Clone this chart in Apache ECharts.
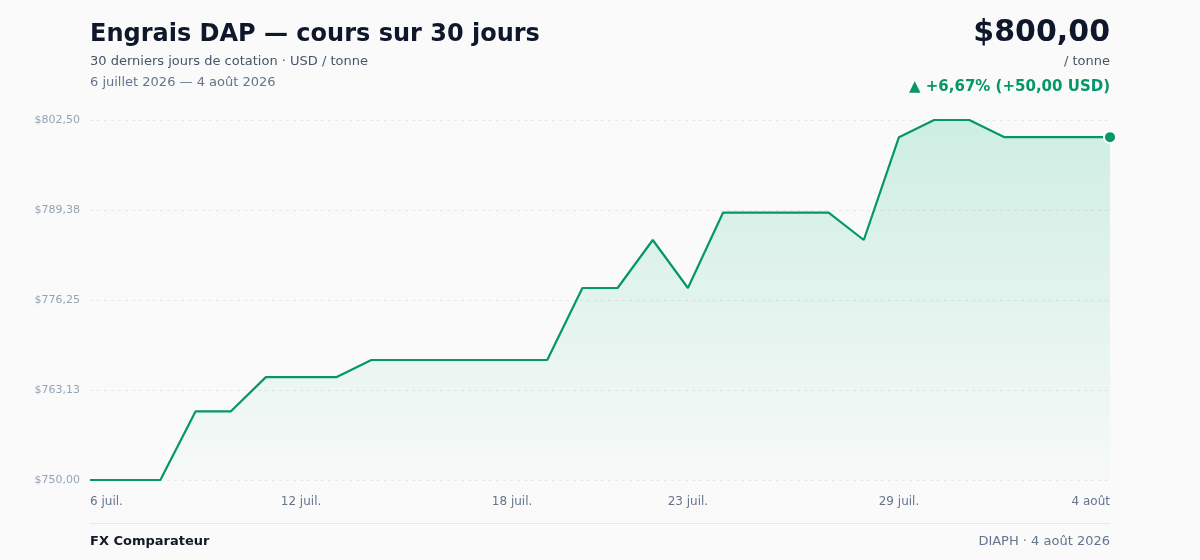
<!DOCTYPE html>
<html>
<head>
<meta charset="utf-8">
<script src="https://cdn.jsdelivr.net/npm/echarts@6/dist/echarts.min.js"></script>
<style>
  html, body { margin: 0; padding: 0; background: #fafafa; }
  #container { width: 1200px; height: 560px; }
</style>
</head>
<body>
<div id="container"></div>
<script>
const days = [
  "6 juil.", "7 juil.", "8 juil.", "9 juil.", "10 juil.", "11 juil.", "12 juil.",
  "13 juil.", "14 juil.", "15 juil.", "16 juil.", "17 juil.", "18 juil.", "19 juil.",
  "20 juil.", "21 juil.", "22 juil.", "23 juil.", "24 juil.", "25 juil.", "26 juil.",
  "27 juil.", "28 juil.", "29 juil.", "30 juil.", "31 juil.", "1 août", "2 août",
  "3 août", "4 août",
];
const prices = [
  750, 750, 750, 760, 760, 765, 765, 765, 767.5, 767.5,
  767.5, 767.5, 767.5, 767.5, 778, 778, 785, 778, 789, 789,
  789, 789, 785, 800, 802.5, 802.5, 800, 800, 800, 800,
];
const shownTicks = [0, 6, 12, 17, 23, 29];
const yMin = 750;
const yMax = 802.5;
const yStep = 13.125;

const green = "#059669";
const font = "'DejaVu Sans', sans-serif";

const fmt = (v) => v.toFixed(2).replace(".", ",");

const dom = document.getElementById("container");
const myChart = echarts.init(dom);

const lastIdx = prices.length - 1;
const first = prices[0];
const last = prices[lastIdx];
const diff = last - first;
const pct = (diff / first) * 100;

const txt = (text, side, top, size, weight, color) => ({
  text: text,
  [side]: 90,
  top: top,
  padding: 0,
  textStyle: { fontSize: size, fontWeight: weight, color: color, fontFamily: font },
});

const option = {
  backgroundColor: "#fafafa",
  animation: false,
  textStyle: { fontFamily: font },
  title: [
    txt("Engrais DAP — cours sur 30 jours", "left", 23, 24, "bold", "#0f172a"),
    txt("30 derniers jours de cotation · USD / tonne", "left", 55, 13, "normal", "#475569"),
    txt("6 juillet 2026 — 4 août 2026", "left", 76, 13, "normal", "#64748b"),
    txt("$" + fmt(last), "right", 18, 30, "bold", "#0f172a"),
    txt("/ tonne", "right", 55, 13, "normal", "#475569"),
    txt("▲ +" + fmt(pct) + "% (+" + fmt(diff) + " USD)", "right", 80, 15, "bold", green),
    txt("FX Comparateur", "left", 535, 13, "bold", "#111827"),
    txt("DIAPH · 4 août 2026", "right", 535, 13, "normal", "#64748b"),
  ],
  graphic: [
    {
      type: "line",
      shape: { x1: 90, y1: 523.5, x2: 1110, y2: 523.5 },
      style: { stroke: "#e5e7eb", lineWidth: 1 },
    },
  ],
  grid: {
    left: 90,
    right: 90,
    top: 120,
    bottom: 80,
  },
  xAxis: {
    type: "category",
    boundaryGap: false,
    data: days,
    axisLine: { show: false },
    axisTick: { show: false },
    axisLabel: {
      interval: (i) => shownTicks.includes(i),
      margin: 16,
      fontSize: 12,
      color: "#64748b",
      fontFamily: font,
      alignMinLabel: "left",
      alignMaxLabel: "right",
    },
  },
  yAxis: {
    type: "value",
    min: yMin,
    max: yMax,
    interval: yStep,
    axisLine: { show: false },
    axisTick: { show: false },
    axisLabel: {
      margin: 10,
      fontSize: 11,
      color: "#94a3b8",
      fontFamily: font,
      formatter: (v) => "$" + fmt(v),
    },
    splitLine: {
      lineStyle: { color: "#e5e7eb", type: [3, 4], width: 1 },
    },
  },
  series: [
    {
      type: "line",
      data: prices,
      symbol: "circle",
      symbolSize: (v, p) => (p.dataIndex === lastIdx ? 12 : 0),
      showSymbol: true,
      itemStyle: { color: green, borderColor: "#ffffff", borderWidth: 2 },
      lineStyle: { color: green, width: 2.2 },
      areaStyle: {
        color: new echarts.graphic.LinearGradient(0, 0, 0, 1, [
          { offset: 0, color: "rgba(16,185,129,0.27)" },
          { offset: 1, color: "rgba(16,185,129,0.02)" },
        ]),
      },
    },
  ],
};

myChart.setOption(option);
</script>
</body>
</html>
